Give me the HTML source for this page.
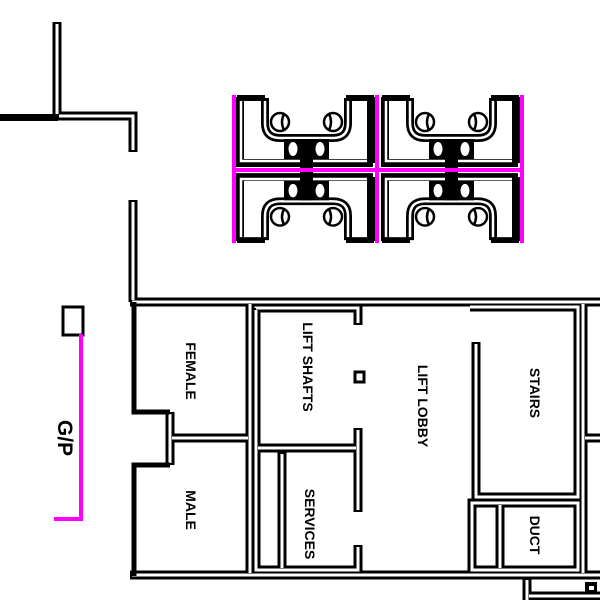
<!DOCTYPE html>
<html><head><meta charset="utf-8"><style>
html,body{margin:0;padding:0;background:#fff;width:600px;height:600px;overflow:hidden}
svg text{font-family:"Liberation Sans",sans-serif;font-weight:bold;font-size:14px;fill:#000}
</style></head><body>
<svg width="600" height="600" viewBox="0 0 600 600" xmlns="http://www.w3.org/2000/svg">
<defs>
<g id="mod">
  <rect x="3" y="0" width="28" height="6" fill="#000"/>
  <rect x="112" y="0" width="28" height="6" fill="#000"/>
  <g fill="none" stroke="#000" stroke-width="8"><path d="M6,2 V68 H139"/><path d="M137,2 V68"/><path d="M31,3 V28 Q31,43 46,43 H99 Q114,43 114,28 V3"/></g>
  <g fill="none" stroke="#fff" stroke-width="2.5"><path d="M7,6 V66 H133"/><path d="M31,6 V28 Q31,43 46,43 H99 Q114,43 114,28 V6"/></g>
  <g fill="none" stroke="#000" stroke-width="2.5">
    <circle cx="46" cy="27" r="9"/><path d="M50,19 Q46,27 50,35"/>
    <circle cx="99" cy="27" r="9"/><path d="M95,19 Q99,27 95,35"/>
  </g>
  <rect x="50" y="44" width="45" height="20" fill="#000"/>
  <ellipse cx="59" cy="54" rx="4.5" ry="7" fill="#fff"/>
  <ellipse cx="86" cy="54" rx="4.5" ry="7" fill="#fff"/>
  <rect x="66" y="44" width="13" height="30" fill="#000"/>
</g>
</defs>

<use href="#mod" transform="translate(234,95)"/>
<use href="#mod" transform="translate(379,95)"/>
<use href="#mod" transform="translate(234,243) scale(1,-0.97)"/>
<use href="#mod" transform="translate(379,243) scale(1,-0.97)"/>
<g stroke="#ff00ff" stroke-width="4" fill="none">
  <path d="M234,95 V243 M377,95 V243 M522,95 V243 M234,170 H522"/>
</g>

<g fill="none" stroke="#000" stroke-width="9" stroke-linejoin="miter">
  <path d="M57,22 V118"/>
  <path d="M57,116 H133 V152"/>
  <path d="M133,200 V302"/>
  <path d="M130,302 H600"/>
  <path d="M130,575 H600"/>
  <path d="M170,412 V465"/>
  <path d="M170,438 H250"/>
  <path d="M250,302 V575"/>
  <path d="M256,308 H358 V325"/>
  <path d="M256,308 V570 H358 V545"/>
  <path d="M256,448 H358"/>
  <path d="M358,428 V512"/>
  <path d="M282,452 V570"/>
  <path d="M470,307 H578 V497 H476 V342"/>
  <path d="M472,503 H578 V570 H472 Z"/>
  <path d="M500,503 V570"/>
  <path d="M583,302 V575"/>
  <path d="M583,438 H600"/>
  <path d="M527,578 V600"/>
  <path d="M527,596 H600"/>
</g>
<g fill="none" stroke="#fff" stroke-width="3">
  <path d="M57,24 V114"/>
  <path d="M59,116 H133 V150"/>
  <path d="M133,202 V300"/>
  <path d="M132,302 H600"/>
  <path d="M132,575 H600"/>
  <path d="M170,414 V463"/>
  <path d="M172,438 H248"/>
  <path d="M250,304 V573"/>
  <path d="M256,308 H358 V323"/>
  <path d="M256,310 V570 H358 V547"/>
  <path d="M258,448 H356"/>
  <path d="M358,430 V510"/>
  <path d="M282,454 V568"/>
  <path d="M470,307 H578 V497 H476 V344"/>
  <path d="M472,503 H578 V570 H472 Z"/>
  <path d="M500,505 V568"/>
  <path d="M583,304 V573"/>
  <path d="M585,438 H600"/>
  <path d="M527,580 V600"/>
  <path d="M529,596 H600"/>
</g>
<rect x="0" y="114" width="58" height="7" fill="#000"/>
<path d="M134,302 V412 H170 M170,465 H134 V576" fill="none" stroke="#000" stroke-width="5"/>
<rect x="355" y="372" width="9" height="10" fill="#fff" stroke="#000" stroke-width="3"/>
<rect x="585" y="582" width="12" height="12" fill="#000"/>
<rect x="589" y="586" width="5" height="4" fill="#fff"/>

<rect x="63" y="307" width="20" height="28" fill="none" stroke="#000" stroke-width="3"/>
<path d="M81,334 V519 H54" fill="none" stroke="#ff00ff" stroke-width="4"/>
<text transform="translate(58,438) rotate(90)" text-anchor="middle" style="font-size:21px">G/P</text>

<text transform="translate(186,371) rotate(90)" text-anchor="middle">FEMALE</text>
<text transform="translate(186,510) rotate(90)" text-anchor="middle">MALE</text>
<text transform="translate(303,367) rotate(90)" text-anchor="middle">LIFT SHAFTS</text>
<text transform="translate(305,524) rotate(90)" text-anchor="middle">SERVICES</text>
<text transform="translate(418,406) rotate(90)" text-anchor="middle">LIFT LOBBY</text>
<text transform="translate(530,393) rotate(90)" text-anchor="middle">STAIRS</text>
<text transform="translate(530,535) rotate(90)" text-anchor="middle">DUCT</text>
</svg>
</body></html>
